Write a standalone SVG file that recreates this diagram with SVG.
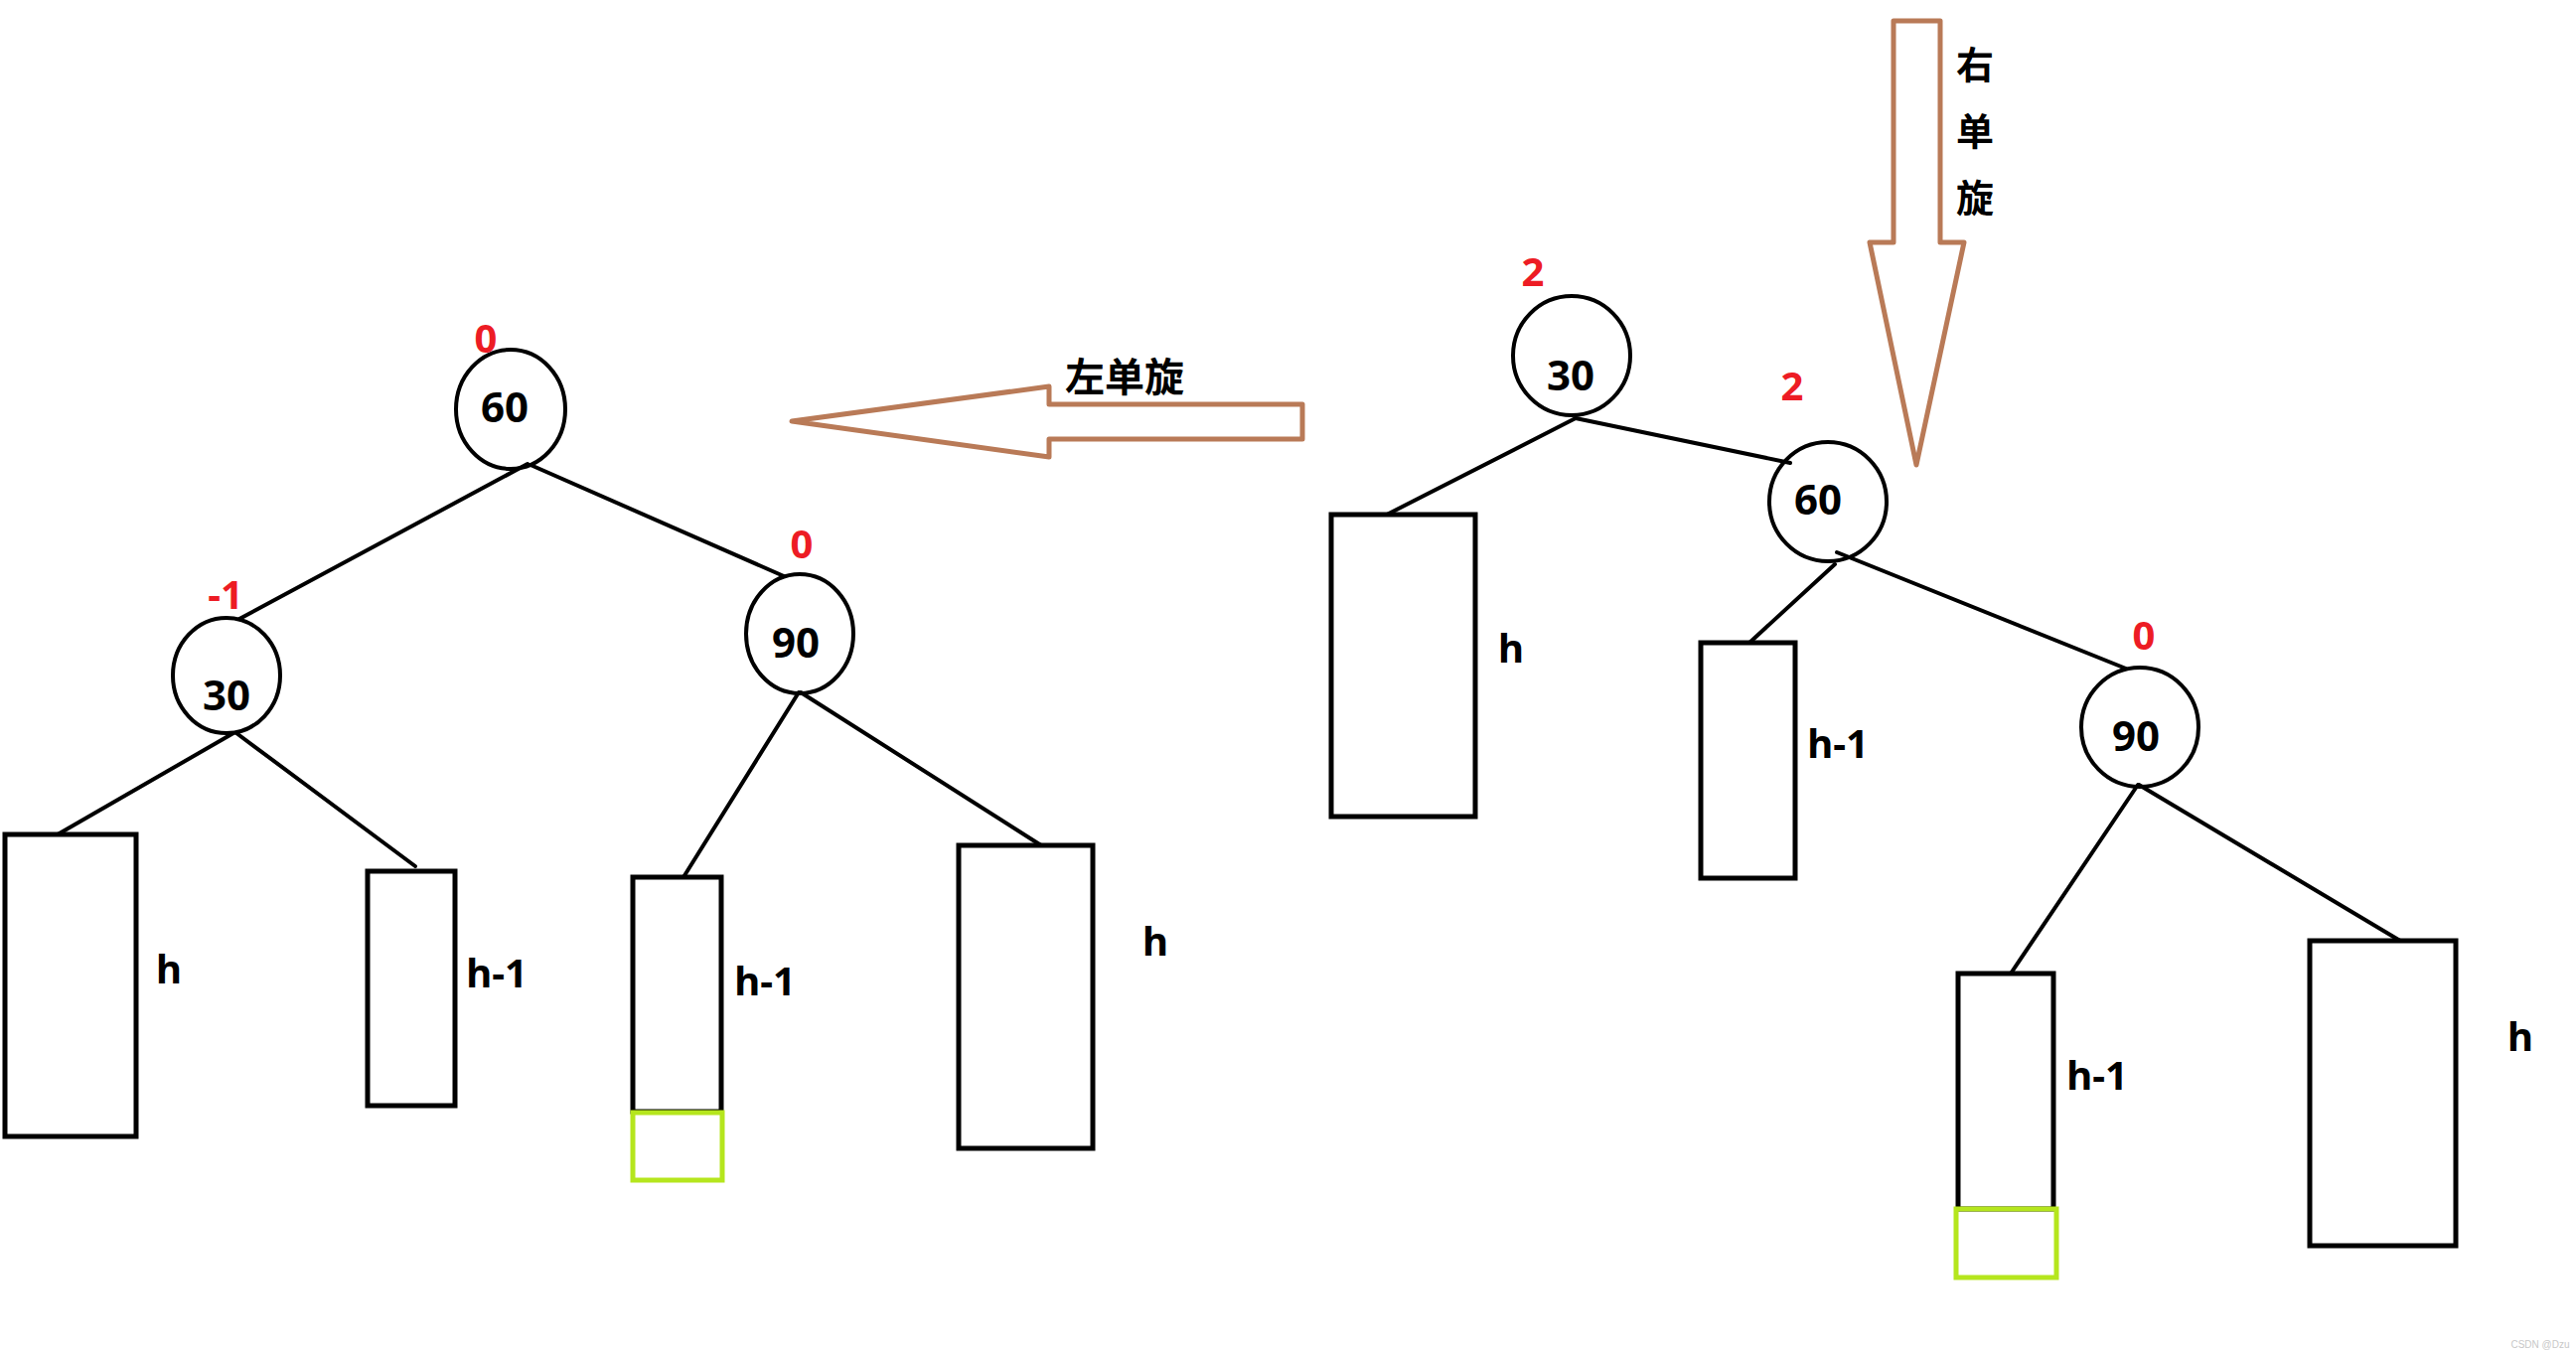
<svg xmlns="http://www.w3.org/2000/svg" width="2593" height="1361" viewBox="0 0 2593 1361">
<style>
.node{fill:none;stroke:#000;stroke-width:4}
.box{fill:none;stroke:#000;stroke-width:5}
.green{fill:none;stroke:#b5e61d;stroke-width:5}
.edge{stroke:#000;stroke-width:4;stroke-linecap:round}
.arrow{fill:none;stroke:#b97a57;stroke-width:5;stroke-linejoin:round}
.val{font-family:"Noto Sans","Open Sans",sans-serif;font-weight:700;font-size:42px;fill:#000;text-anchor:middle}
.bf{font-family:"Noto Sans","Open Sans",sans-serif;font-weight:700;font-size:40px;fill:#ed1c24;text-anchor:middle}
.lbl{font-family:"Noto Sans","Open Sans",sans-serif;font-weight:700;font-size:40px;fill:#000;text-anchor:middle}
.cjk{font-family:"Noto Sans CJK SC","Noto Sans",sans-serif;font-weight:700;font-size:38px;fill:#000;text-anchor:middle}
</style>
<rect width="2593" height="1361" fill="#fff"/>
<g id="connectors">
<line class="edge" x1="531" y1="467" x2="241" y2="623"/>
<line class="edge" x1="534" y1="468" x2="789" y2="580"/>
<line class="edge" x1="235" y1="738" x2="58" y2="840"/>
<line class="edge" x1="238" y1="738" x2="418" y2="872"/>
<line class="edge" x1="804" y1="697" x2="688" y2="883"/>
<line class="edge" x1="806" y1="697" x2="1048" y2="851"/>
<line class="edge" x1="1586" y1="421" x2="1396" y2="518"/>
<line class="edge" x1="1586" y1="421" x2="1802" y2="466"/>
<line class="edge" x1="1847" y1="568" x2="1761" y2="647"/>
<line class="edge" x1="1849" y1="556" x2="2140" y2="673"/>
<line class="edge" x1="2152" y1="790" x2="2024" y2="980"/>
<line class="edge" x1="2153" y1="790" x2="2416" y2="947"/>
</g>
<g id="left-60"><ellipse class="node" cx="514" cy="412" rx="55" ry="60"/><text class="val" x="508" y="425">60</text><text class="bf" x="489" y="355">0</text></g>
<g id="left-30"><ellipse class="node" cx="228" cy="680" rx="54" ry="58"/><text class="val" x="228" y="715">30</text><text class="bf" x="227" y="613">-1</text></g>
<g id="left-90"><ellipse class="node" cx="805" cy="638" rx="54" ry="60"/><text class="val" x="801" y="662">90</text><text class="bf" x="807" y="562">0</text></g>
<g id="left-h-a"><rect class="box" x="5" y="840" width="132" height="304"/><text class="lbl" x="170" y="990">h</text></g>
<g id="left-h1-a"><rect class="box" x="370" y="877" width="88" height="236"/><text class="lbl" x="500" y="994">h-1</text></g>
<g id="left-h1-b"><rect class="box" x="637" y="883" width="89" height="236"/><rect class="green" x="637" y="1120" width="90" height="68"/><text class="lbl" x="770" y="1002">h-1</text></g>
<g id="left-h-b"><rect class="box" x="965" y="851" width="135" height="305"/><text class="lbl" x="1163" y="962">h</text></g>
<g id="arrow-left"><polygon class="arrow" points="797,424 1056,389 1056,407 1311,407 1311,442 1056,442 1056,460"/><text class="cjk" x="1132" y="394" style="font-size:40px">左单旋</text></g>
<g id="arrow-down"><polygon class="arrow" points="1906,21 1953,21 1953,244 1977,244 1929,468 1882,244 1906,244"/><text class="cjk" x="1988" y="79">右</text><text class="cjk" x="1988" y="146">单</text><text class="cjk" x="1988" y="213">旋</text></g>
<g id="right-30"><ellipse class="node" cx="1582" cy="358" rx="59" ry="60"/><text class="val" x="1581" y="393">30</text><text class="bf" x="1543" y="288">2</text></g>
<g id="right-60"><ellipse class="node" cx="1840" cy="505" rx="59" ry="60"/><text class="val" x="1830" y="518">60</text><text class="bf" x="1804" y="403">2</text></g>
<g id="right-90"><ellipse class="node" cx="2154" cy="732" rx="59" ry="60"/><text class="val" x="2150" y="756">90</text><text class="bf" x="2158" y="654">0</text></g>
<g id="right-h-a"><rect class="box" x="1340" y="518" width="145" height="304"/><text class="lbl" x="1521" y="667">h</text></g>
<g id="right-h1-a"><rect class="box" x="1712" y="647" width="95" height="237"/><text class="lbl" x="1850" y="763">h-1</text></g>
<g id="right-h1-b"><rect class="box" x="1971" y="980" width="96" height="237"/><rect class="green" x="1969" y="1217" width="101" height="69"/><text class="lbl" x="2111" y="1097">h-1</text></g>
<g id="right-h-b"><rect class="box" x="2325" y="947" width="147" height="307"/><text class="lbl" x="2537" y="1058">h</text></g>
<text x="2557" y="1357" style="font-family:'Liberation Sans',sans-serif;font-size:10px;fill:#c8c8c8;text-anchor:middle">CSDN @Dzu</text>
</svg>
